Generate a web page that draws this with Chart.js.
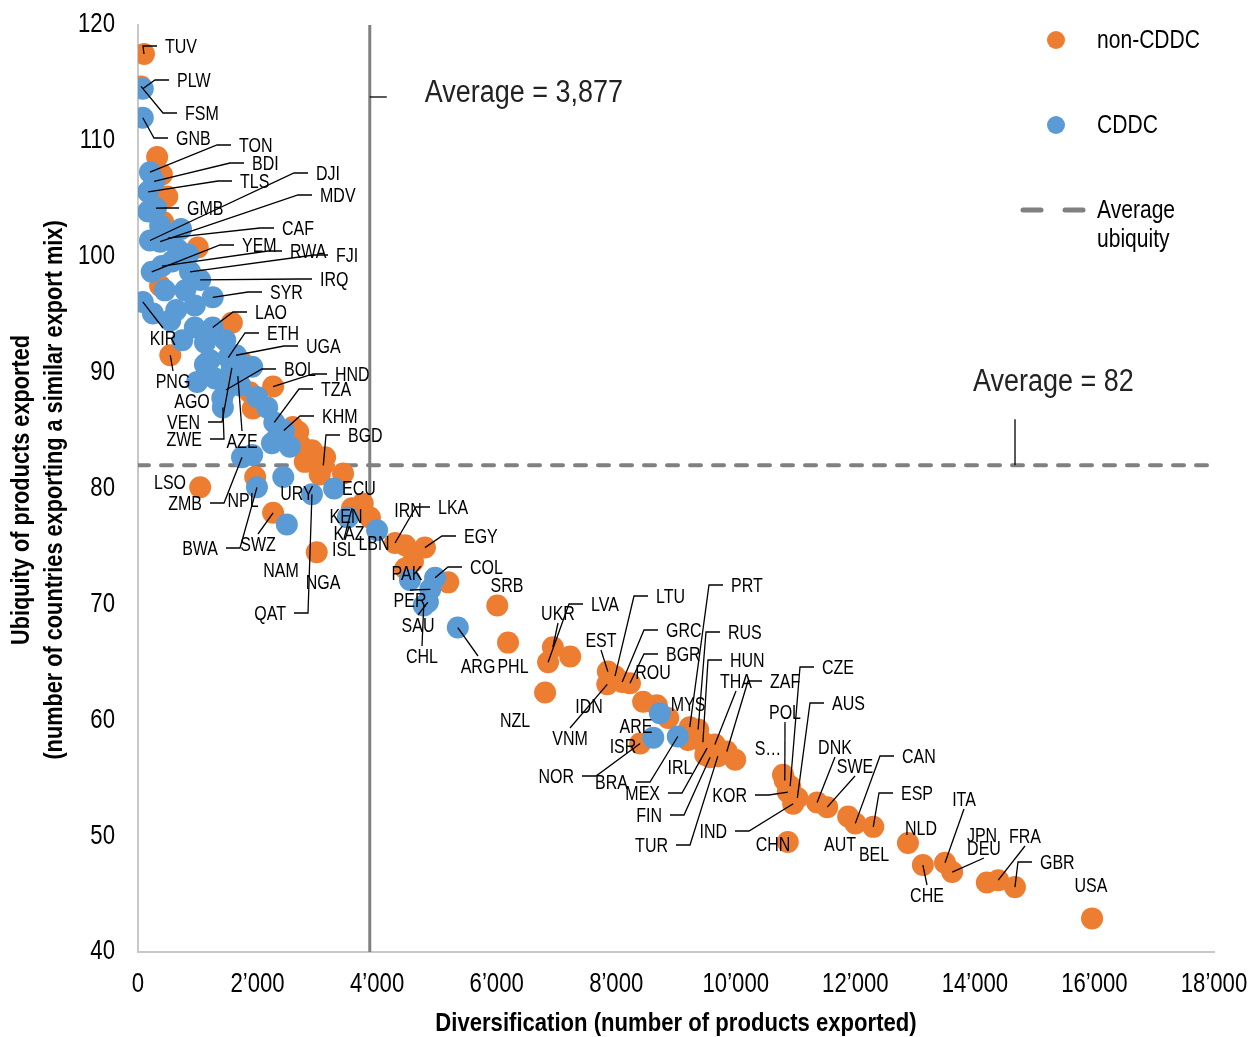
<!DOCTYPE html>
<html>
<head>
<meta charset="utf-8">
<script src="https://cdn.jsdelivr.net/npm/chart.js@4"></script>
<style>
  html, body { margin: 0; padding: 0; background: #fff; }
  #wrap { width: 1251px; height: 1037px; }
</style>
</head>
<body>
<div id="wrap"><canvas id="chart" width="1251" height="1037"></canvas></div>
<script>
var FONT = "'Liberation Sans', Arial, sans-serif";

// averages
var avgDiversification = 3877;
var avgUbiquity = 82;

// axis ticks
var xTicks = [0, 2000, 4000, 6000, 8000, 10000, 12000, 14000, 16000, 18000];
var yTicks = [40, 50, 60, 70, 80, 90, 100, 110, 120];

// non-CDDC countries (orange)
var nonCddcCodes = ['TUV','FSM','','','','','','','','PNG','','','','HND','','','','','','','BGD','','','','LSO','NPL','SWZ','NGA','ISL','KAZ','','LKA','','EGY','','','','SRB','PHL','UKR','','LVA','NZL','EST','LTU','VNM','GRC','BGR','','','','NOR','PRT','RUS','','','HUN','MEX','THA','FIN','TUR','ZAF','','','','POL','CZE','KOR','AUS','IND','CHN','DNK','SWE','AUT','CAN','ESP','NLD','CHE','ITA','DEU','','FRA','GBR','USA',''];
var nonCddcX = [100,50,320,400,490,420,1000,370,1570,540,1740,1640,1870,2260,1920,2590,2660,2710,2910,3130,3100,2790,3040,3430,1040,1960,2260,2990,3580,3760,3880,4300,4470,4800,4600,4470,5190,6010,6190,6940,7230,6860,6810,7860,7980,7850,8100,8230,8450,8680,8870,8400,9230,9370,9200,9320,9450,9520,9650,9570,9700,9850,9990,9490,10790,10820,10910,10870,11030,10960,10870,11360,11530,11880,12000,12300,12880,13130,13500,13620,14200,14390,14670,15960,2680];
var nonCddcY = [117.5,114.7,108.6,107.1,105.2,103.0,100.8,97.5,94.3,91.5,90.9,89.5,88.3,88.8,86.9,85.3,84.2,83.8,83.3,82.7,82.0,82.3,81.2,81.3,80.1,81.0,77.9,74.5,78.3,78.7,77.5,75.3,75.1,74.9,73.7,73.1,71.9,69.9,66.7,66.3,65.5,65.0,62.4,64.2,63.8,63.1,63.3,63.2,61.6,61.3,60.2,58.0,59.4,59.2,58.3,58.7,58.1,57.6,57.9,56.8,56.9,57.3,56.6,57.0,55.3,54.8,54.3,53.8,53.3,52.8,49.5,52.9,52.5,51.7,51.1,50.8,49.4,47.5,47.7,46.9,46.0,46.2,45.6,42.9,84.9];

// CDDC countries (blue)
var cddcCodes = ['PLW','GNB','TON','BDI','TLS','GMB','','','','DJI','MDV','CAF','','','','YEM','RWA','FJI','IRQ','','','SYR','KIR','','','','','LAO','','','','','','ETH','UGA','','','','VEN','AZE','BOL','AGO','ZWE','','','TZA','KHM','','','','ZMB','','','BWA','QAT','ECU','NAM','KEN','LBN','PAK','COL','PER','SAU','CHL','ARG','MYS','ISR','BRA','',''];
var cddcX = [80,80,200,270,170,300,170,720,370,200,370,500,670,840,570,230,400,870,1040,450,790,1250,80,250,640,950,540,1250,950,1120,740,1200,1460,1510,1640,1910,990,1290,1570,1670,1470,1410,1420,1990,2160,2280,2440,2330,2540,2240,1740,1910,2430,1990,2910,3280,2490,3510,4000,4550,4970,4890,4850,4780,5350,8730,8620,9030,1710,1120];
var cddcY = [114.5,112.0,107.3,106.5,105.6,104.2,103.9,102.4,102.7,101.4,101.3,101.6,100.6,100.2,99.6,98.7,99.2,98.7,98.0,97.1,97.1,96.5,96.1,95.1,95.4,95.8,94.5,93.9,93.9,92.6,92.8,91.1,92.8,91.3,91.5,90.5,89.2,89.5,90.4,89.7,88.5,87.8,87.0,87.9,87.0,85.7,85.0,84.4,83.6,83.9,82.7,82.9,81.0,80.1,79.5,80.0,76.9,77.5,76.4,72.1,72.3,71.3,70.2,69.9,68.0,60.6,58.5,58.6,88.9,90.7];

// label placement: [code, align, x, y]  l = text right of elbow, r = text left of elbow, c = centred (leader to edge), n = no leader
var labelLayout = [
  ['TUV','l',165,46],['PLW','l',177,80],['FSM','l',185,113],['GNB','l',176,138],['TON','l',239,145],
  ['BDI','l',252,163],['TLS','l',240,181],['DJI','l',316,173],['MDV','l',320,195],['GMB','l',187,208],
  ['CAF','l',282,228],['YEM','l',242,245],['RWA','l',290,251],['FJI','l',336,255],['IRQ','l',320,279],
  ['SYR','l',270,292],['LAO','l',255,312],['ETH','l',267,333],['UGA','l',306,346],['BOL','l',284,369],
  ['HND','l',335,374],['TZA','l',321,389],['KHM','l',322,416],['BGD','l',348,435],['LKA','l',438,507],
  ['EGY','l',464,536],['COL','l',470,567],['LVA','l',591,604],['LTU','l',656,596],['PRT','l',731,585],
  ['GRC','l',666,630],['RUS','l',728,632],['BGR','l',666,654],['HUN','l',730,660],['ZAF','l',770,681],
  ['CZE','l',822,667],['AUS','l',832,703],['CAN','l',902,756],['ESP','l',901,793],['GBR','l',1040,862],
  ['ZMB','r',202,503],['BWA','r',218,548],['QAT','r',286,613],['VEN','r',200,422],['ZWE','r',202,439],
  ['NOR','r',574,776],['BRA','r',628,782],['MEX','r',660,793],['FIN','r',662,815],['TUR','r',668,845],
  ['KOR','r',747,795],['IND','r',727,831],
  ['KIR','c',163,338],['PNG','c',173,381],['AZE','c',242,441],['SWZ','c',258,544],['ISL','c',344,549],
  ['PER','c',410,600],['SAU','c',418,625],['CHL','c',422,656],['ARG','c',478,666],['UKR','c',558,613],
  ['EST','c',601,640],['VNM','c',570,738],['THA','c',736,681],['POL','c',785,712],['DNK','c',835,747],
  ['SWE','c',855,766],['ITA','c',964,799],['DEU','c',984,848],['FRA','c',1025,836],['CHE','c',927,895],
  ['AGO','n',192,401],['LSO','n',170,482],['NPL','n',243,500],['URY','n',297,493],['NAM','n',281,570],
  ['NGA','n',323,582],['KEN','n',346,516],['KAZ','n',349,533],['LBN','n',374,543],['ECU','n',359,488],
  ['IRN','n',408,510],['PAK','n',407,573],['SRB','n',507,585],['PHL','n',513,666],['NZL','n',515,720],
  ['IDN','n',589,706],['ROU','n',653,672],['MYS','n',688,704],['ARE','n',636,726],['ISR','n',623,746],
  ['IRL','n',680,767],['S\u2026','n',768,748],['CHN','n',773,844],['AUT','n',840,844],['BEL','n',874,854],
  ['NLD','n',921,828],['JPN','n',982,835],['USA','n',1091,885]
];

var ORANGE = '#ED7D31';
var BLUE = '#5B9BD5';
var GREY = '#808080';

function toPoints(xs, ys) {
  var out = [];
  for (let i = 0; i < xs.length; i++) out.push({ x: xs[i], y: ys[i] });
  return out;
}

function fmtThousands(v) {
  var s = String(v);
  if (s.length > 3) return s.slice(0, -3) + '\u2019' + s.slice(-3);
  return s;
}

// condensed text: the original uses a narrow face, so squeeze a normal one
function narrow(ctx, text, x, y, align, size, sx, bold) {
  ctx.save();
  ctx.font = (bold ? 'bold ' : '') + size + 'px ' + FONT;
  ctx.textAlign = align;
  ctx.textBaseline = 'middle';
  ctx.translate(x, y);
  ctx.scale(sx, 1);
  ctx.fillText(text, 0, 0);
  ctx.restore();
}

var overlay = {
  id: 'overlay',
  afterDatasetsDraw: function(chart) {
    var ctx = chart.ctx;
    var xs = chart.scales.x, ys = chart.scales.y;
    var area = chart.chartArea;

    // where each country ended up
    var pos = {};
    [[2, nonCddcCodes], [3, cddcCodes]].forEach(function(p) {
      var meta = chart.getDatasetMeta(p[0]);
      meta.data.forEach(function(el, i) {
        if (p[1][i]) pos[p[1][i]] = { x: el.x, y: el.y };
      });
    });

    ctx.save();
    ctx.strokeStyle = '#000';
    ctx.lineWidth = 1.3;
    ctx.fillStyle = '#000';

    // tick labels
    xTicks.forEach(function(v) {
      narrow(ctx, fmtThousands(v), xs.getPixelForValue(v), area.bottom + 33, 'center', 27, 0.82);
    });
    yTicks.forEach(function(v) {
      narrow(ctx, String(v), area.left - 23, ys.getPixelForValue(v), 'right', 27, 0.82);
    });

    labelLayout.forEach(function(l) {
      var code = l[0], al = l[1], lx = l[2], ly = l[3];
      var p = pos[code];
      if (p && al == 'l') {
        ctx.beginPath();
        ctx.moveTo(p.x, p.y);
        ctx.lineTo(lx - 22, ly);
        ctx.lineTo(lx - 8, ly);
        ctx.stroke();
      } else if (p && al == 'r') {
        ctx.beginPath();
        ctx.moveTo(p.x, p.y);
        ctx.lineTo(lx + 22, ly);
        ctx.lineTo(lx + 8, ly);
        ctx.stroke();
      } else if (p && al == 'c') {
        ctx.beginPath();
        ctx.moveTo(p.x, p.y);
        ctx.lineTo(lx, p.y < ly ? ly - 10 : ly + 10);
        ctx.stroke();
      }
      var align = al == 'l' ? 'left' : (al == 'r' ? 'right' : 'center');
      narrow(ctx, code, lx, ly + 1, align, 20, 0.8);
    });

    // average annotations
    var ax = xs.getPixelForValue(avgDiversification);
    ctx.beginPath();
    ctx.moveTo(ax, area.top + 72);
    ctx.lineTo(ax + 17, area.top + 72);
    ctx.stroke();
    ctx.fillStyle = '#222';
    narrow(ctx, 'Average = 3,877', ax + 55, area.top + 68, 'left', 31, 0.87);

    var ay = ys.getPixelForValue(avgUbiquity);
    ctx.beginPath();
    ctx.moveTo(area.right - 199, ay - 46);
    ctx.lineTo(area.right - 199, ay);
    ctx.stroke();
    narrow(ctx, 'Average = 82', area.right - 241, ay - 83, 'left', 31, 0.87);

    // legend
    ctx.fillStyle = ORANGE;
    ctx.beginPath(); ctx.arc(1056, 40, 9, 0, Math.PI * 2); ctx.fill();
    ctx.fillStyle = BLUE;
    ctx.beginPath(); ctx.arc(1056, 125, 9, 0, Math.PI * 2); ctx.fill();
    ctx.strokeStyle = GREY;
    ctx.lineWidth = 5;
    ctx.lineCap = 'round';
    ctx.beginPath(); ctx.moveTo(1023, 210); ctx.lineTo(1041, 210); ctx.stroke();
    ctx.beginPath(); ctx.moveTo(1065, 210); ctx.lineTo(1083, 210); ctx.stroke();
    ctx.fillStyle = '#000';
    narrow(ctx, 'non-CDDC', 1097, 41, 'left', 26, 0.81);
    narrow(ctx, 'CDDC', 1097, 126, 'left', 26, 0.81);
    narrow(ctx, 'Average', 1097, 211, 'left', 26, 0.81);
    narrow(ctx, 'ubiquity', 1097, 240, 'left', 26, 0.81);

    // axis titles
    narrow(ctx, 'Diversification (number of products exported)', (area.left + area.right) / 2, 1024, 'center', 26, 0.85, true);
    ctx.translate(22, 490);
    ctx.rotate(-Math.PI / 2);
    narrow(ctx, 'Ubiquity of products exported', 0, 0, 'center', 26, 0.835, true);
    narrow(ctx, '(number of countries exporting a similar export mix)', 0, 33, 'center', 26, 0.835, true);
    ctx.restore();
  }
};

new Chart(document.getElementById('chart'), {
  type: 'scatter',
  data: {
    datasets: [
      {
        type: 'line',
        data: [{ x: avgDiversification, y: 40 }, { x: avgDiversification, y: 120 }],
        borderColor: GREY, borderWidth: 3, pointRadius: 0, order: 2
      },
      {
        type: 'line',
        data: [{ x: 0, y: avgUbiquity }, { x: 18000, y: avgUbiquity }],
        borderColor: GREY, borderWidth: 4, borderDash: [11, 12], borderCapStyle: 'round',
        pointRadius: 0, order: 2
      },
      {
        label: 'non-CDDC',
        data: toPoints(nonCddcX, nonCddcY),
        backgroundColor: ORANGE, borderWidth: 0, pointRadius: 11, order: 1
      },
      {
        label: 'CDDC',
        data: toPoints(cddcX, cddcY),
        backgroundColor: BLUE, borderWidth: 0, pointRadius: 11, order: 0
      }
    ]
  },
  options: {
    responsive: false,
    animation: false,
    layout: { padding: { top: 25, right: 37, left: 0, bottom: 0 } },
    plugins: { legend: { display: false }, tooltip: { enabled: false } },
    scales: {
      x: {
        type: 'linear', min: 0, max: 18000,
        grid: { display: false },
        border: { display: true, color: '#c8c8c8', width: 2 },
        ticks: { display: false, stepSize: 2000 },
        afterFit: function(s) { s.height = 85; }
      },
      y: {
        min: 40, max: 120,
        grid: { display: false },
        border: { display: true, color: '#c8c8c8', width: 2 },
        ticks: { display: false, stepSize: 10 },
        afterFit: function(s) { s.width = 138; }
      }
    }
  },
  plugins: [overlay]
});
</script>
</body>
</html>
